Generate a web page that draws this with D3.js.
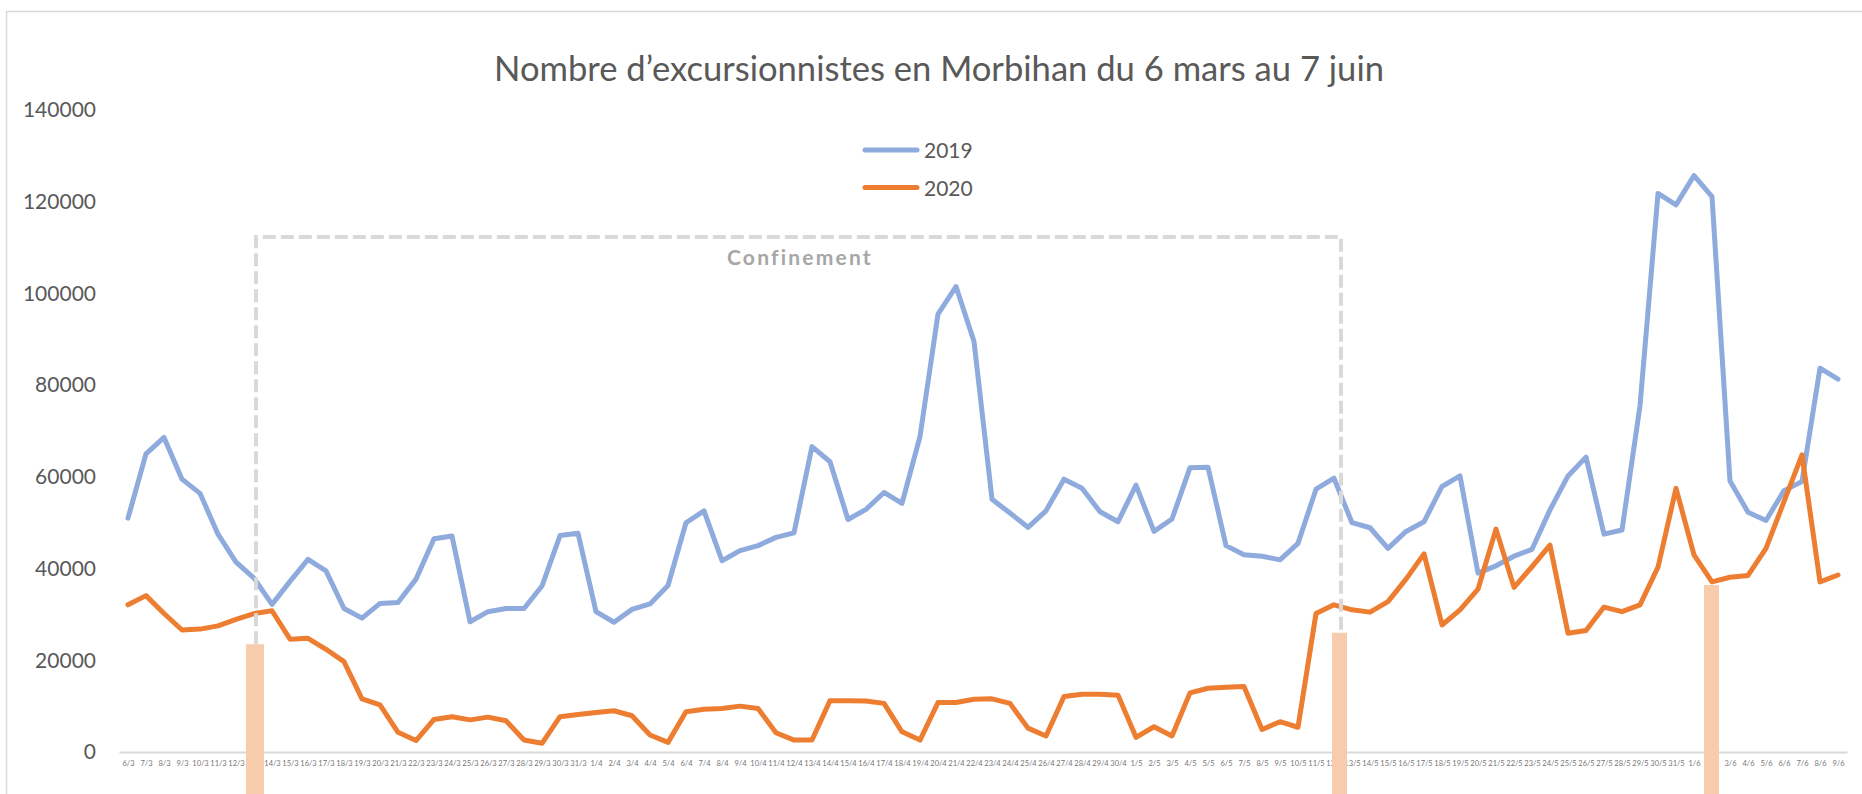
<!DOCTYPE html>
<html>
<head>
<meta charset="utf-8">
<script src="https://cdn.jsdelivr.net/npm/d3@7"></script>
<style>
  body { margin: 0; background: #fff; }
  svg { display: block; font-family: Lato, "Open Sans", sans-serif; }
</style>
</head>
<body>
<svg id="chart" width="1862" height="794"></svg>
<script>
// --- Data ---
const dates = [
  "6/3","7/3","8/3","9/3","10/3","11/3","12/3","13/3","14/3","15/3","16/3","17/3","18/3","19/3","20/3",
  "21/3","22/3","23/3","24/3","25/3","26/3","27/3","28/3","29/3","30/3","31/3",
  "1/4","2/4","3/4","4/4","5/4","6/4","7/4","8/4","9/4","10/4","11/4","12/4","13/4","14/4","15/4",
  "16/4","17/4","18/4","19/4","20/4","21/4","22/4","23/4","24/4","25/4","26/4","27/4","28/4","29/4","30/4",
  "1/5","2/5","3/5","4/5","5/5","6/5","7/5","8/5","9/5","10/5","11/5","12/5","13/5","14/5","15/5",
  "16/5","17/5","18/5","19/5","20/5","21/5","22/5","23/5","24/5","25/5","26/5","27/5","28/5","29/5","30/5","31/5",
  "1/6","2/6","3/6","4/6","5/6","6/6","7/6","8/6","9/6"
];

const values2019 = [
  51000, 65000, 68600, 59500, 56400, 47500, 41400, 37900, 32200, 37200,
  42000, 39500, 31300, 29200, 32400, 32600, 37700, 46500, 47100, 28400,
  30600, 31300, 31300, 36200, 47200, 47700, 30600, 28300, 31100, 32300,
  36300, 50000, 52600, 41700, 43900, 45000, 46800, 47800, 66600, 63300,
  50700, 52900, 56600, 54200, 68800, 95500, 101500, 89500, 55100, 52100,
  49000, 52600, 59500, 57500, 52400, 50200, 58200, 48100, 50800, 62000,
  62100, 45000, 43000, 42700, 41900, 45500, 57300, 59700, 50000, 48900,
  44400, 48100, 50200, 57900, 60200, 39000, 40600, 42700, 44200, 52800,
  60200, 64300, 47500, 48400, 75500, 121800, 119300, 125700, 121100, 59100,
  52300, 50500, 57000, 59000, 83700, 81300
];

const values2020 = [
  32100, 34100, 30200, 26600, 26800, 27500, 28900, 30200, 30800, 24600,
  24800, 22400, 19700, 11600, 10300, 4300, 2500, 7100, 7700, 7000,
  7600, 6800, 2600, 1900, 7700, 8200, 8600, 9000, 7900, 3700,
  2100, 8800, 9300, 9500, 10000, 9500, 4200, 2600, 2600, 11200,
  11200, 11100, 10600, 4400, 2600, 10800, 10800, 11500, 11600, 10600,
  5200, 3500, 12100, 12600, 12600, 12400, 3200, 5500, 3500, 12900,
  13900, 14100, 14300, 4900, 6600, 5400, 30200, 32100, 31000, 30500,
  32800, 37700, 43200, 27700, 31000, 35500, 48600, 35900, 40400, 45100,
  25900, 26500, 31600, 30600, 32100, 40300, 57500, 43000, 37100, 38100,
  38500, 44400, 54600, 64800, 37100, 38600
];

const yTicks = [0, 20000, 40000, 60000, 80000, 100000, 120000, 140000];

// highlighted dates (peach markers) and their top value
const markerDates = ["13/3", "12/5", "2/6"];
const markerTops = [23500, 26000, 36400];

// lockdown box
const confStart = "13/3";
const confEnd = "12/5";
const confTop = 112300;
const confLabel = "Confinement";

const series = [
  { name: "2019", values: values2019, color: "#8faadc" },
  { name: "2020", values: values2020, color: "#ed7d31" }
];

// --- Layout ---
const W = 1862, H = 794;
const svg = d3.select('#chart');

const x = d3.scalePoint().domain(dates).range([119, 1847]).padding(0.5);
const y = d3.scaleLinear().domain([0, 140000]).range([752, 110]);

// frame
svg.append('rect')
  .attr('x', 6.5).attr('y', 11.5)
  .attr('width', W + 20).attr('height', H + 20)
  .attr('fill', 'none')
  .attr('stroke', '#d9d9d9')
  .attr('stroke-width', 1.5);

// title
svg.append('text')
  .attr('x', 939).attr('y', 81)
  .attr('text-anchor', 'middle')
  .attr('fill', '#595959')
  .style('font-size', '34.6px')
  .text("Nombre d’excursionnistes en Morbihan du 6 mars au 7 juin");

// y axis (labels only)
const yAxis = svg.append('g')
  .attr('transform', 'translate(96,0)')
  .call(d3.axisLeft(y).tickValues(yTicks).tickSize(0).tickPadding(0).tickFormat(d3.format('d')));
yAxis.select('.domain').remove();
yAxis.selectAll('text')
  .attr('fill', '#595959')
  .style('font-size', '21px')
  .style('font-family', 'Lato, sans-serif');

// x axis
const xAxis = svg.append('g')
  .attr('transform', 'translate(0,752)')
  .call(d3.axisBottom(x).tickSize(0).tickSizeOuter(0).tickPadding(9));
xAxis.select('.domain')
  .attr('stroke', '#d9d9d9')
  .attr('stroke-width', 2);
xAxis.selectAll('text')
  .attr('fill', '#767676')
  .style('font-size', '7.5px')
  .style('font-family', 'Lato, sans-serif');

// lines
const line = d3.line()
  .x((d, i) => x(dates[i]))
  .y(d => y(d));

svg.selectAll('.series')
  .data(series)
  .enter()
  .append('path')
  .attr('class', 'series')
  .attr('d', d => line(d.values))
  .attr('fill', 'none')
  .attr('stroke', d => d.color)
  .attr('stroke-width', 5)
  .attr('stroke-linejoin', 'round')
  .attr('stroke-linecap', 'round');

// confinement box
const xl = x(confStart) + 2, xr = x(confEnd) + 7;
const yl = y(markerTops[0]), yr = y(markerTops[1]);
svg.append('path')
  .attr('d', `M${xl},${yl}V${y(confTop)}H${xr}V${yr}`)
  .attr('fill', 'none')
  .attr('stroke', '#d9d9d9')
  .attr('stroke-width', 4)
  .attr('stroke-dasharray', '13,5');

svg.append('text')
  .attr('x', 727).attr('y', 265)
  .attr('fill', '#a6a6a6')
  .style('font-size', '21px')
  .style('font-weight', 'bold')
  .style('letter-spacing', '2.2px')
  .text(confLabel);

// markers
svg.selectAll('.marker')
  .data(markerDates)
  .enter()
  .append('rect')
  .attr('class', 'marker')
  .attr('x', (d, i) => x(d) - 8 + (i === 1 ? 6 : 0))
  .attr('y', (d, i) => y(markerTops[i]))
  .attr('width', (d, i) => i === 0 ? 18 : 15)
  .attr('height', (d, i) => H - y(markerTops[i]))
  .attr('fill', '#f8cbad');

// legend
const legend = svg.selectAll('.legend')
  .data(series)
  .enter()
  .append('g')
  .attr('class', 'legend')
  .attr('transform', (d, i) => `translate(863,${150 + i * 37.5})`);

legend.append('line')
  .attr('x1', 2).attr('x2', 54)
  .attr('stroke', d => d.color)
  .attr('stroke-width', 5)
  .attr('stroke-linecap', 'round');

legend.append('text')
  .attr('x', 61).attr('y', 8)
  .attr('fill', '#595959')
  .style('font-size', '21px')
  .text(d => d.name);
</script>
</body>
</html>
